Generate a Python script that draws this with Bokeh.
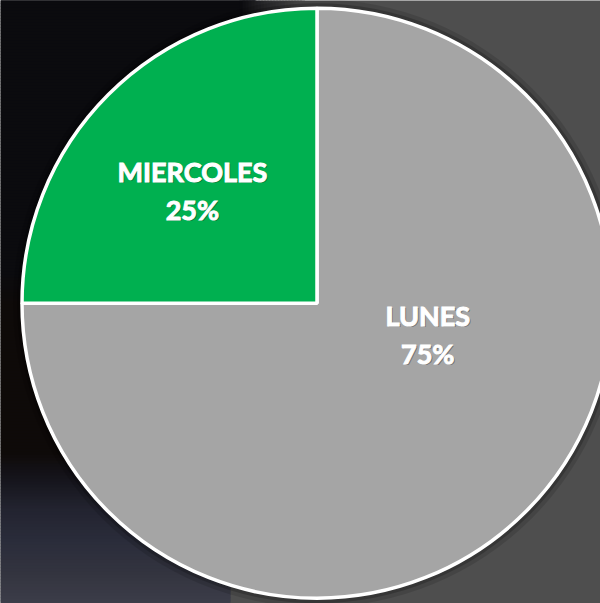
import numpy as np
from bokeh.plotting import figure
from bokeh.models import Range1d, ColumnDataSource
from bokeh.core.properties import value
from bokeh.embed import file_html
from bokeh.resources import INLINE

# ---- data ----
categories = ["LUNES", "MIERCOLES"]
values = [75, 25]
labels = ["75%", "25%"]
colors = ["#a5a5a5", "#00b050"]

# ---- layout / style ----
W, H = 600, 603
cx, cy, R = 316.5, 300.3, 295.0
# label placement in polar coords relative to the pie centre (deg, fraction of radius)
label_polar = [(-15.7, 0.39), (137.8, 0.57)]
line_gap = 38.0
font = value("Lato")


def hex2rgb(h):
    h = h.lstrip("#")
    return np.array([int(h[i:i + 2], 16) for i in (0, 2, 4)], dtype=float)


def rgb2hex(c):
    return "#%02x%02x%02x" % tuple(int(round(v)) for v in c)


def gradient(stops, n):
    # stops: list of (pos, hex); returns n colours sampled between them
    pos = np.array([s[0] for s in stops], dtype=float)
    cols = np.array([hex2rgb(s[1]) for s in stops])
    t = np.linspace(pos[0], pos[-1], n)
    return [rgb2hex([np.interp(tt, pos, cols[:, k]) for k in range(3)]) for tt in t], t


p = figure(width=W, height=H, output_backend="svg", toolbar_location=None,
           x_range=Range1d(0, W), y_range=Range1d(0, H),
           min_border=0, background_fill_color="#4e4e4e", border_fill_color="#4e4e4e")
p.axis.visible = False
p.grid.visible = False
p.outline_line_color = None

# background photo approximation: vertical gradient on the left part
step = 3
vstops = [(0, "#3c3d49"), (30, "#33343f"), (60, "#2b2d3b"), (95, "#22232f"),
          (125, "#15141b"), (150, "#0e0a09"), (300, "#0e0a09"), (330, "#0b0b0e"), (603, "#0b0b0e")]
vcols, vpos = gradient(vstops, 603 // step + 1)
p.quad(left=0, right=[255 if y > 300 else 230 for y in vpos], bottom=vpos - 1, top=vpos + step + 1,
       color=vcols, line_color=None)
# horizontal fade from dark to grey at the top
hstops = [(240, "#0b0b0e"), (265, "#2a2a2c"), (300, "#4e4e4e")]
hcols, hpos = gradient(hstops, 21)
p.quad(left=hpos - 1, right=hpos + 4.5, bottom=330, top=603, color=hcols, line_color=None)

# soft shadow around the pie
p.circle(x=[cx], y=[cy], radius=[R + 9], fill_color="black", fill_alpha=0.12, line_color=None)
p.circle(x=[cx], y=[cy], radius=[R + 5], fill_color="black", fill_alpha=0.2, line_color=None)

# wedges, clockwise from 12 o'clock
vals = np.array(values, dtype=float)
frac = vals / vals.sum()
cum = np.concatenate([[0], np.cumsum(frac)])
start = np.pi / 2 - cum[:-1] * 2 * np.pi
end = np.pi / 2 - cum[1:] * 2 * np.pi
src = ColumnDataSource(dict(x=[cx] * len(vals), y=[cy] * len(vals), start=start, end=end,
                            color=colors, cat=categories))
p.wedge(x="x", y="y", radius=R, start_angle="start", end_angle="end", direction="clock",
        fill_color="color", line_color="white", line_width=3.5, source=src)

# labels
lx = [cx + f * R * np.cos(np.radians(a)) for a, f in label_polar]
ly = [cy + f * R * np.sin(np.radians(a)) for a, f in label_polar]
top_y = [y + line_gap / 2 for y in ly]
bot_y = [y - line_gap / 2 for y in ly]
for txt, yy in ((categories, top_y), (labels, bot_y)):
    p.text(x=lx, y=yy, text=txt, text_font=font, text_font_style="bold",
           text_font_size="27px", text_color="black", text_alpha=0.3,
           text_align="center", text_baseline="middle", x_offset=1.5, y_offset=1.5)
    p.text(x=lx, y=yy, text=txt, text_font=font, text_font_style="bold",
           text_font_size="27px", text_color="white",
           text_align="center", text_baseline="middle",
           text_outline_color="white")

open("out.html", "w").write(file_html(p, INLINE))
